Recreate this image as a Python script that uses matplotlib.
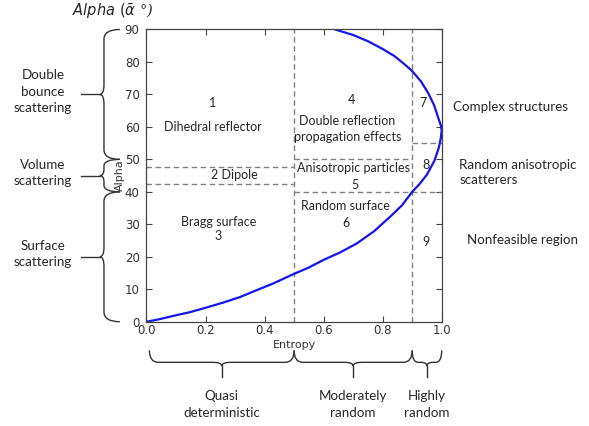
import numpy as np
import matplotlib.pyplot as plt
from matplotlib.path import Path
from matplotlib.patches import PathPatch
from matplotlib.transforms import blended_transform_factory

##### Chart data #####
# feasible-region boundary (entropy, alpha)
curve_h = [0.639, 0.70, 0.75, 0.80, 0.84, 0.87, 0.899, 0.93, 0.955, 0.975, 0.989, 0.997, 1.0,
           0.997, 0.99, 0.975, 0.95, 0.925, 0.9, 0.865, 0.825, 0.77, 0.7125, 0.655, 0.599,
           0.55, 0.494, 0.43, 0.37, 0.317, 0.26, 0.204, 0.15, 0.091, 0.04, 0.0]
curve_alpha = [90, 88.3, 86.4, 84.0, 81.8, 79.6, 77.3, 74.0, 70.3, 66.5, 62.6, 60.5, 59.0,
               56.5, 53.5, 49.5, 45.3, 42.4, 40.0, 35.8, 32.3, 27.8, 24.1, 21.3, 19.0,
               16.7, 14.5, 11.8, 9.6, 7.6, 5.9, 4.4, 3.0, 1.8, 0.7, 0.0]

zone_h = [0.5, 0.9]
hline_alpha = [47.5, 42.5, 50, 40, 55]
hline_start = [0.0, 0.0, 0.5, 0.5, 0.9]
hline_end = [0.5, 0.5, 0.9, 1.0, 1.0]

zone_labels = ['1', 'Dihedral reflector', '2 Dipole', 'Bragg surface', '3',
               '4', 'Double reflection', 'propagation effects',
               'Anisotropic particles', '5', 'Random surface', '6',
               '7', '8', '9']
zone_label_h = [0.225, 0.225, 0.297, 0.243, 0.243, 0.694, 0.68, 0.68,
                0.70, 0.707, 0.675, 0.675, 0.937, 0.946, 0.947]
zone_label_alpha = [67.4, 60.0, 45.1, 30.7, 26.3, 68.3, 61.9, 56.9,
                    47.3, 42.1, 35.6, 30.4, 67.4, 48.3, 24.7]

alpha_groups = ['Double\nbounce\nscattering', 'Volume\nscattering', 'Surface\nscattering']
alpha_group_top = [90, 50, 40]
alpha_group_bot = [50, 40, 0]

entropy_groups = ['Quasi\ndeterministic', 'Moderately\nrandom', 'Highly\nrandom']
entropy_group_lo = [0.01, 0.5, 0.9]
entropy_group_hi = [0.5, 0.9, 1.0]

right_labels = ['Complex structures', 'Random anisotropic\nscatterers', 'Nonfeasible region']
right_label_x = [1.04, 1.06, 1.085]
right_label_alpha = [66.2, 46.0, 25.1]

txt_font = ['Lato', 'DejaVu Sans']
inner_size = 9
outer_size = 9.6
dash_style = dict(color='#808080', lw=1, linestyle=(0, (4, 2.5)))


def brace_vertical(ax, top, bot, xe, xs, xt, xp):
    '''
    Curly brace along the alpha axis, x in axes fraction, y in data units
    '''
    tr = blended_transform_factory(ax.transAxes, ax.transData)
    mid = (top + bot) / 2
    d = min(3.0, (top - bot) / 5)
    verts = [(xe, top), (xs, top), (xs, top - d),
             (xs, mid + d), (xs, mid), (xt, mid),
             (xs, mid), (xs, mid - d),
             (xs, bot + d), (xs, bot), (xe, bot)]
    codes = [Path.MOVETO, Path.CURVE3, Path.CURVE3,
             Path.LINETO, Path.CURVE3, Path.CURVE3,
             Path.CURVE3, Path.CURVE3,
             Path.LINETO, Path.CURVE3, Path.CURVE3]
    ax.add_patch(PathPatch(Path(verts, codes), fc='none', ec='#333333', lw=1,
                           transform=tr, clip_on=False))
    ax.plot([xt, xp], [mid, mid], color='#333333', lw=1, transform=tr, clip_on=False)
    return mid


def brace_horizontal(ax, lo, hi, ye, ys, yt, yp):
    '''
    Curly brace along the entropy axis, x in data units, y in axes fraction
    '''
    tr = blended_transform_factory(ax.transData, ax.transAxes)
    mid = (lo + hi) / 2
    d = min(0.03, (hi - lo) / 5)
    verts = [(lo, ye), (lo, ys), (lo + d, ys),
             (mid - d, ys), (mid, ys), (mid, yt),
             (mid, ys), (mid + d, ys),
             (hi - d, ys), (hi, ys), (hi, ye)]
    codes = [Path.MOVETO, Path.CURVE3, Path.CURVE3,
             Path.LINETO, Path.CURVE3, Path.CURVE3,
             Path.CURVE3, Path.CURVE3,
             Path.LINETO, Path.CURVE3, Path.CURVE3]
    ax.add_patch(PathPatch(Path(verts, codes), fc='none', ec='#333333', lw=1,
                           transform=tr, clip_on=False))
    ax.plot([mid, mid], [yt, yp], color='#333333', lw=1, transform=tr, clip_on=False)
    return mid


fig = plt.figure(figsize=(5.89, 4.26), dpi=100)
ax = fig.add_axes([0.2487, 0.2448, 0.5012, 0.6860])

# zone boundaries
for h in zone_h:
    ax.axvline(h, **dash_style)
for a, s, e in zip(hline_alpha, hline_start, hline_end):
    ax.plot([s, e], [a, a], **dash_style)

ax.plot(curve_h, curve_alpha, color='#1414f0', lw=1.6, solid_joinstyle='round')

for lab, h, a in zip(zone_labels, zone_label_h, zone_label_alpha):
    ax.text(h, a, lab, ha='center', va='center', family=txt_font,
            fontsize=inner_size, color='#262626')

ax.set_xlim(0, 1)
ax.set_ylim(0, 90)
ax.set_xticks(np.arange(0, 1.01, 0.2))
ax.set_yticks(np.arange(0, 91, 10))
ax.tick_params(direction='in', top=True, right=True, labelsize=8.5,
               labelcolor='#333333', length=4, width=0.8, color='#444444')
ax.tick_params(axis='x', pad=2)
ax.tick_params(axis='y', pad=5)
for sp in ax.spines.values():
    sp.set_color('#444444')
    sp.set_linewidth(0.9)
ax.set_xlabel('Entropy', fontsize=8, color='#333333', labelpad=2)
ax.set_ylabel('Alpha', fontsize=8, color='#333333', labelpad=0)

# left braces and group names
left_tr = blended_transform_factory(ax.transAxes, ax.transData)
for name, top, bot in zip(alpha_groups, alpha_group_top, alpha_group_bot):
    mid = brace_vertical(ax, top, bot, -0.090, -0.144, -0.158, -0.222)
    ax.text(-0.351, mid + 0.8, name, ha='center', va='center', family=txt_font,
            fontsize=outer_size, color='#262626', linespacing=1.45,
            transform=left_tr)

# bottom braces and group names
bot_tr = blended_transform_factory(ax.transData, ax.transAxes)
for name, lo, hi in zip(entropy_groups, entropy_group_lo, entropy_group_hi):
    mid = brace_horizontal(ax, lo, hi, -0.098, -0.139, -0.152, -0.19)
    ax.text(mid, -0.284, name, ha='center', va='center', family=txt_font,
            fontsize=outer_size, color='#262626', linespacing=1.45,
            transform=bot_tr)

# right-hand descriptions
for name, x, a in zip(right_labels, right_label_x, right_label_alpha):
    ax.text(x, a, name, ha='left', va='center', family=txt_font,
            fontsize=outer_size, color='#262626', linespacing=1.3,
            transform=left_tr)

ax.text(-0.114, 1.06, r'$Alpha\ (\bar{\alpha}$ °)', ha='center', va='center',
        family='DejaVu Serif', style='italic', fontsize=10.5, color='#262626',
        transform=ax.transAxes)

fig.savefig('out.png', dpi=100)
